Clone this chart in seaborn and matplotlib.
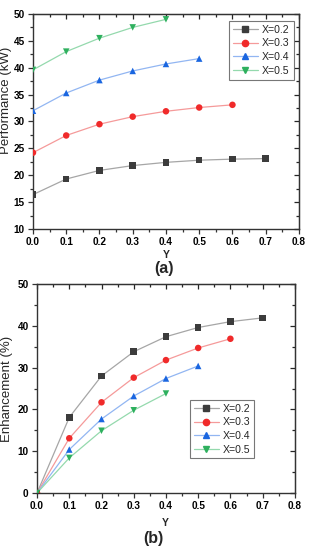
import matplotlib
matplotlib.use('Agg')
import matplotlib.pyplot as plt
from matplotlib.lines import Line2D
from matplotlib.ticker import MultipleLocator
import numpy as np
import pandas as pd
import seaborn as sns

# data
y_vals = [0.0, 0.1, 0.2, 0.3, 0.4, 0.5, 0.6, 0.7]
series = ['X=0.2', 'X=0.3', 'X=0.4', 'X=0.5']

perf_x02 = [16.4, 19.3, 20.9, 21.8, 22.4, 22.8, 23.0, 23.1]
perf_x03 = [24.2, 27.4, 29.5, 30.9, 31.9, 32.6, 33.1]
perf_x04 = [32.0, 35.3, 37.7, 39.4, 40.7, 41.7]
perf_x05 = [39.6, 43.0, 45.5, 47.5, 49.0]

enh_x02 = [0.0, 18.1, 28.0, 33.8, 37.4, 39.6, 41.0, 41.9]
enh_x03 = [0.0, 13.1, 21.7, 27.6, 31.8, 34.7, 36.9]
enh_x04 = [0.0, 10.4, 17.7, 23.2, 27.4, 30.4]
enh_x05 = [0.0, 8.4, 14.9, 19.8, 23.8]

marker_cols = ['#3c3c3c', '#f02a2a', '#1a66e0', '#2eb05e']
line_cols = ['#a6a6a6', '#f59a9a', '#92b6f2', '#94d9ad']
markers = ['s', 'o', '^', 'v']


def to_frame(lists):
  rows = []
  for name, vals in zip(series, lists):
    for yv, v in zip(y_vals, vals):
      rows.append({'Y': yv, 'val': v, 'series': name})
  return pd.DataFrame(rows)


df_a = to_frame([perf_x02, perf_x03, perf_x04, perf_x05])
df_b = to_frame([enh_x02, enh_x03, enh_x04, enh_x05])

sns.set_style('ticks')
plt.rcParams['font.family'] = ['Liberation Sans', 'DejaVu Sans']

fig = plt.figure(figsize=(3.14, 5.5), dpi=100)
ax_a = fig.add_axes([0.105, 0.5836, 0.847, 0.391])
ax_b = fig.add_axes([0.118, 0.1036, 0.821, 0.38])


def draw(ax, df):
  sns.lineplot(data=df, x='Y', y='val', hue='series', palette=line_cols,
               lw=0.9, legend=False, ax=ax)
  sns.scatterplot(data=df, x='Y', y='val', hue='series', style='series',
                  palette=marker_cols, markers=markers, s=22, linewidth=0,
                  legend=False, ax=ax, zorder=3)
  ax.set_xlim(0, 0.8)
  ax.xaxis.set_major_locator(MultipleLocator(0.1))
  ax.xaxis.set_minor_locator(MultipleLocator(0.05))
  for sp in ax.spines.values():
    sp.set_linewidth(1.0)
    sp.set_color('#333333')
  ax.tick_params(which='both', direction='out', width=0.9, colors='#333333',
                 labelsize=7.2, labelcolor='black', pad=2.5)
  ax.tick_params(which='major', length=3.5)
  ax.tick_params(which='minor', length=2)
  # inward ticks on the top and right edges
  sec_x = ax.secondary_xaxis('top')
  sec_x.xaxis.set_major_locator(MultipleLocator(0.1))
  sec_x.xaxis.set_minor_locator(MultipleLocator(0.05))
  sec_x.tick_params(which='both', direction='in', labeltop=False, width=0.9)
  sec_x.tick_params(which='major', length=3.5)
  sec_x.tick_params(which='minor', length=2)
  sec_y = ax.secondary_yaxis('right')
  sec_y.tick_params(which='both', direction='in', labelright=False, width=0.9)
  sec_y.tick_params(which='major', length=3.5)
  sec_y.tick_params(which='minor', length=2)
  ax.set_xlabel('Y', fontsize=7.5, fontweight='bold', va='center')
  return sec_y


def add_legend(ax, anchor):
  handles = [Line2D([], [], color=lc, lw=0.9, marker=m, markersize=4.5,
                    markerfacecolor=mc, markeredgecolor=mc)
             for lc, mc, m in zip(line_cols, marker_cols, markers)]
  leg = ax.legend(handles, series, loc='upper left', bbox_to_anchor=anchor,
                  fontsize=7.6, frameon=True, fancybox=False, handlelength=2.4,
                  handletextpad=0.4, borderpad=0.35, labelspacing=0.35,
                  borderaxespad=0)
  leg.get_frame().set_edgecolor('#555555')
  leg.get_frame().set_linewidth(0.8)


def bold_ticks(ax):
  for lab in ax.get_xticklabels() + ax.get_yticklabels():
    lab.set_fontweight('bold')


sy_a = draw(ax_a, df_a)
ax_a.set_ylim(10, 50)
ax_a.yaxis.set_major_locator(MultipleLocator(5))
ax_a.yaxis.set_minor_locator(MultipleLocator(2.5))
sy_a.yaxis.set_major_locator(MultipleLocator(5))
sy_a.yaxis.set_minor_locator(MultipleLocator(2.5))
ax_a.set_ylabel('Performance (kW)', fontsize=9.5, va='center')
ax_a.yaxis.set_label_coords(-0.1, 0.6)
ax_a.xaxis.set_label_coords(0.5, -0.121)
add_legend(ax_a, (0.737, 0.967))
bold_ticks(ax_a)

sy_b = draw(ax_b, df_b)
ax_b.set_ylim(0, 50)
ax_b.yaxis.set_major_locator(MultipleLocator(10))
ax_b.yaxis.set_minor_locator(MultipleLocator(5))
sy_b.yaxis.set_major_locator(MultipleLocator(10))
sy_b.yaxis.set_minor_locator(MultipleLocator(5))
ax_b.set_ylabel('Enhancement (%)', fontsize=9.5, va='center')
ax_b.yaxis.set_label_coords(-0.115, 0.5)
ax_b.xaxis.set_label_coords(0.496, -0.1435)
add_legend(ax_b, (0.593, 0.445))
bold_ticks(ax_b)

fig.text(164 / 314, 1 - 269 / 550, '(a)', ha='center', va='center', fontsize=11.5, fontweight='bold')
fig.text(153 / 314, 1 - 538 / 550, '(b)', ha='center', va='center', fontsize=11.5, fontweight='bold')

fig.savefig('out.png', dpi=100, facecolor='white')
